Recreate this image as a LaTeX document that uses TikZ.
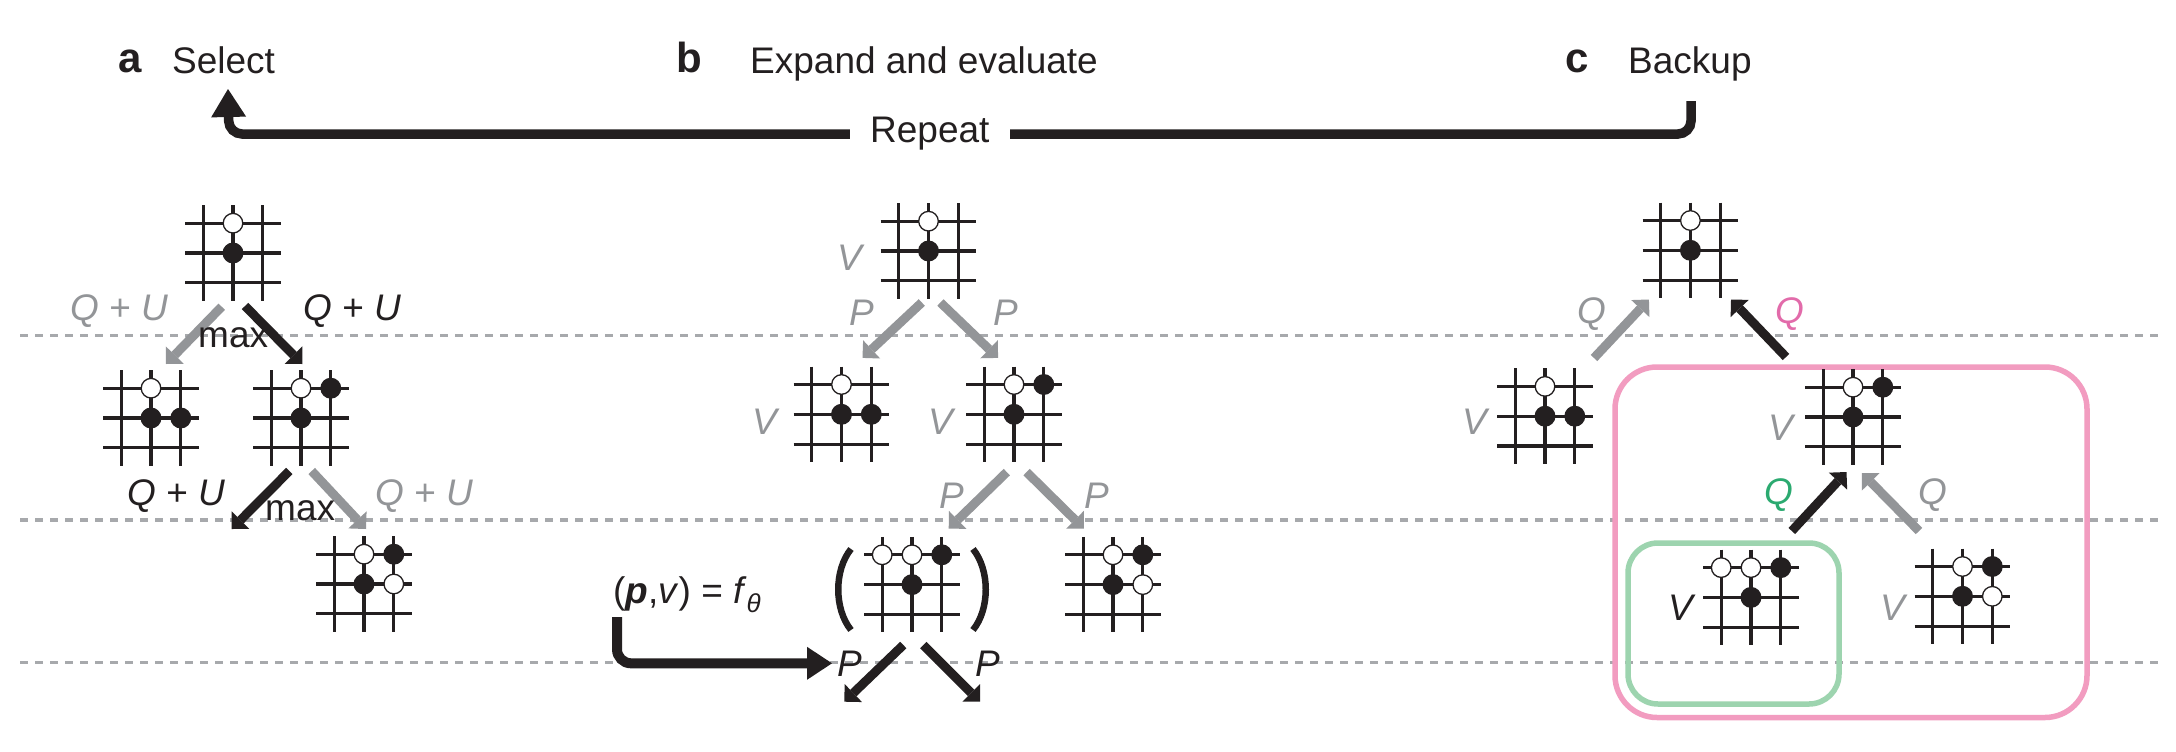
\documentclass[tikz,border=0pt]{standalone}
\usepackage{fontspec}
\setmainfont{Liberation Sans}
\usetikzlibrary{arrows.meta}
\definecolor{ink}{HTML}{231F20}
\definecolor{midgray}{HTML}{939598}
\definecolor{dashgray}{HTML}{A7A9AC}
\definecolor{pinkbox}{HTML}{F29CC0}
\definecolor{pinktxt}{HTML}{E26BAA}
\definecolor{greenbox}{HTML}{9DD4AF}
\definecolor{greentxt}{HTML}{2BAA70}
\tikzset{
  lbl/.style={font=\fontsize{37}{44}\selectfont, inner sep=0pt, anchor=base west, text=ink},
  glbl/.style={lbl, text=midgray},
  hd/.style={font=\fontsize{42}{48}\selectfont\bfseries, inner sep=0pt, anchor=base west, text=ink},
  gridline/.style={line width=3.2pt, draw=ink},
  wstone/.style={fill=white, draw=ink, line width=1.3pt},
  bstone/.style={fill=ink, draw=ink, line width=1.3pt},
  boardbox/.style={minimum width=96pt, minimum height=96pt, inner sep=0pt},
  treearrow/.style={line width=9pt, -{Triangle[width=25pt,length=12.5pt,line width=0pt]}},
  blkarrow/.style={treearrow, draw=ink},
  gryarrow/.style={treearrow, draw=midgray},
  divider/.style={draw=dashgray, line width=3.3pt, dash pattern=on 8pt off 7pt},
  bigarrow/.style={draw=ink, line width=9.5pt, rounded corners=13pt},
  paren/.style={draw=ink, line width=6.5pt},
}
\newcommand{\goboard}[4]{%
\begin{scope}[shift={(#2,#3)}]
  \node[boardbox] (#1) at (0,0) {};
  \foreach \kk in {-1,0,1} {
    \draw[gridline] (\kk*29.8,-47.8) -- (\kk*29.8,47.8);
    \draw[gridline] (-47.8,\kk*29.8) -- (47.8,\kk*29.8);
  }
  \foreach \ci/\ri/\st in {#4} {
    \path[\st] ({(\ci-1)*29.8},{(\ri-1)*29.8}) circle[radius=9.8pt];
  }
\end{scope}}
\begin{document}
\begin{tikzpicture}[x=1pt,y=-1pt]
\useasboundingbox (0,0) rectangle (2176,752);
\fill[white] (0,0) rectangle (2176,752);
% level separators
\foreach \yy in {335.7,520,662.5} \draw[divider] (20,\yy) -- (2160,\yy);
% backup boxes
\draw[pinkbox, line width=5.5pt, rounded corners=42pt] (1615,367) rectangle (2087,717.5);
\draw[greenbox, line width=5.5pt, rounded corners=30pt] (1628,543) rectangle (1839,704);
% header
\node[hd] (la) at (118,73) {a};
\node[lbl] (tsel) at (172,74) {Select};
\node[hd] (lb) at (676,73) {b};
\node[lbl] (texp) at (750,74) {Expand and evaluate};
\node[hd] (lc) at (1565,73) {c};
\node[lbl] (tback) at (1628,74) {Backup};
\coordinate (repS) at (1691,101);
\coordinate (repE) at (228,89);
\draw[bigarrow, -{Triangle[width=35pt,length=28pt,line width=0pt]}] (repS) |- (229,134) -- (repE);
\node[lbl, fill=white, inner xsep=20pt, inner ysep=3pt] (trep) at (850,142) {Repeat};
% boards a
\goboard{aA}{233}{253}{1/0/wstone,1/1/bstone}
\goboard{aL}{151}{418}{1/0/wstone,1/1/bstone,2/1/bstone}
\goboard{aR}{301}{418}{1/0/wstone,2/0/bstone,1/1/bstone}
\goboard{aRR}{364}{584}{1/0/wstone,2/0/bstone,1/1/bstone,2/1/wstone}
% boards b
\goboard{bA}{928.5}{251}{1/0/wstone,1/1/bstone}
\goboard{bL}{841.5}{414.3}{1/0/wstone,1/1/bstone,2/1/bstone}
\goboard{bR}{1014}{414.3}{1/0/wstone,2/0/bstone,1/1/bstone}
\goboard{bRL}{912}{584.6}{0/0/wstone,1/0/wstone,2/0/bstone,1/1/bstone}
\goboard{bRR}{1113}{584.6}{1/0/wstone,2/0/bstone,1/1/bstone,2/1/wstone}
% boards c
\goboard{cA}{1690.4}{250.3}{1/0/wstone,1/1/bstone}
\goboard{cL}{1545}{416.2}{1/0/wstone,1/1/bstone,2/1/bstone}
\goboard{cR}{1853}{417}{1/0/wstone,2/0/bstone,1/1/bstone}
\goboard{cRL}{1751}{597.4}{0/0/wstone,1/0/wstone,2/0/bstone,1/1/bstone}
\goboard{cRR}{1962.5}{596.3}{1/0/wstone,2/0/bstone,1/1/bstone,2/1/wstone}
% parentheses round the evaluated leaf
\draw[paren] (851,549) .. controls (834,570) and (834,609) .. (851,630);
\draw[paren] (973,549) .. controls (990,570) and (990,609) .. (973,630);
% arrow end points
\coordinate (a1s) at (221.7,306.7); \coordinate (a1e) at (166,364);
\coordinate (a2s) at (245,306);     \coordinate (a2e) at (302.3,364);
\coordinate (a3s) at (289.3,471);   \coordinate (a3e) at (231.7,529);
\coordinate (a4s) at (311.7,471);   \coordinate (a4e) at (366,529);
\coordinate (b1s) at (921.8,302.5); \coordinate (b1e) at (862.5,357.9);
\coordinate (b2s) at (940.4,302.5); \coordinate (b2e) at (998.1,357.9);
\coordinate (b3s) at (1006.8,472.1);\coordinate (b3e) at (948.7,528.6);
\coordinate (b4s) at (1026.6,472.1);\coordinate (b4e) at (1083.9,528.6);
\coordinate (b5s) at (903.3,645);   \coordinate (b5e) at (844.3,701.7);
\coordinate (b6s) at (923.3,645);   \coordinate (b6e) at (980,701.7);
\coordinate (bfs) at (617,617);     \coordinate (bfe) at (832,663.3);
\coordinate (c1s) at (1594,358);    \coordinate (c1e) at (1648.9,299.5);
\coordinate (c2s) at (1786,357);    \coordinate (c2e) at (1731,299.5);
\coordinate (c3s) at (1791.8,531);  \coordinate (c3e) at (1846.5,472);
\coordinate (c4s) at (1919,531);    \coordinate (c4e) at (1861.9,473);
% arrows
\draw[gryarrow] (a1s) -- (a1e);
\draw[blkarrow] (a2s) -- (a2e);
\draw[blkarrow] (a3s) -- (a3e);
\draw[gryarrow] (a4s) -- (a4e);
\draw[gryarrow] (b1s) -- (b1e);
\draw[gryarrow] (b2s) -- (b2e);
\draw[gryarrow] (b3s) -- (b3e);
\draw[gryarrow] (b4s) -- (b4e);
\draw[blkarrow] (b5s) -- (b5e);
\draw[blkarrow] (b6s) -- (b6e);
\draw[draw=ink, line width=10pt, rounded corners=14pt, -{Triangle[width=33pt,length=25pt,line width=0pt]}] (bfs) |- (bfe);
\draw[gryarrow] (c1s) -- (c1e);
\draw[blkarrow] (c2s) -- (c2e);
\draw[blkarrow] (c3s) -- (c3e);
\draw[gryarrow] (c4s) -- (c4e);
% labels a
\node[glbl] (qu1) at (70,320) {\textit{Q} + \textit{U}};
\node[lbl] (qu2) at (303,320) {\textit{Q} + \textit{U}};
\node[lbl] (max1) at (198,347) {max};
\node[lbl] (qu3) at (127,505) {\textit{Q} + \textit{U}};
\node[lbl] (max2) at (265,520) {max};
\node[glbl] (qu4) at (375,505) {\textit{Q} + \textit{U}};
% labels b
\node[glbl] (vb0) at (837,270) {\textit{V}};
\node[glbl] (pb1) at (849,325.7) {\textit{P}};
\node[glbl] (pb2) at (993,325.7) {\textit{P}};
\node[glbl] (vb1) at (752,434.6) {\textit{V}};
\node[glbl] (vb2) at (928,434.6) {\textit{V}};
\node[glbl] (pb3) at (939,508) {\textit{P}};
\node[glbl] (pb4) at (1084,508) {\textit{P}};
\node[lbl] (fth) at (613,603) {(\textbf{\textit{p}},\textit{v}) = \textit{f}\raisebox{-9pt}{\fontsize{26}{28}\selectfont\textit{θ}}};
\node[lbl] (pb5) at (837,676.7) {\textit{P}};
\node[lbl] (pb6) at (975,676.7) {\textit{P}};
% labels c
\node[glbl] (qc1) at (1577.5,323) {\textit{Q}};
\node[lbl, text=pinktxt] (qc2) at (1775.7,323) {\textit{Q}};
\node[glbl] (vc1) at (1462,434.5) {\textit{V}};
\node[glbl] (vc2) at (1768,440) {\textit{V}};
\node[lbl, text=greentxt] (qc3) at (1764,504) {\textit{Q}};
\node[glbl] (qc4) at (1918,504) {\textit{Q}};
\node[lbl] (vc3) at (1668,620) {\textit{V}};
\node[glbl] (vc4) at (1880,620) {\textit{V}};
\end{tikzpicture}
\end{document}
